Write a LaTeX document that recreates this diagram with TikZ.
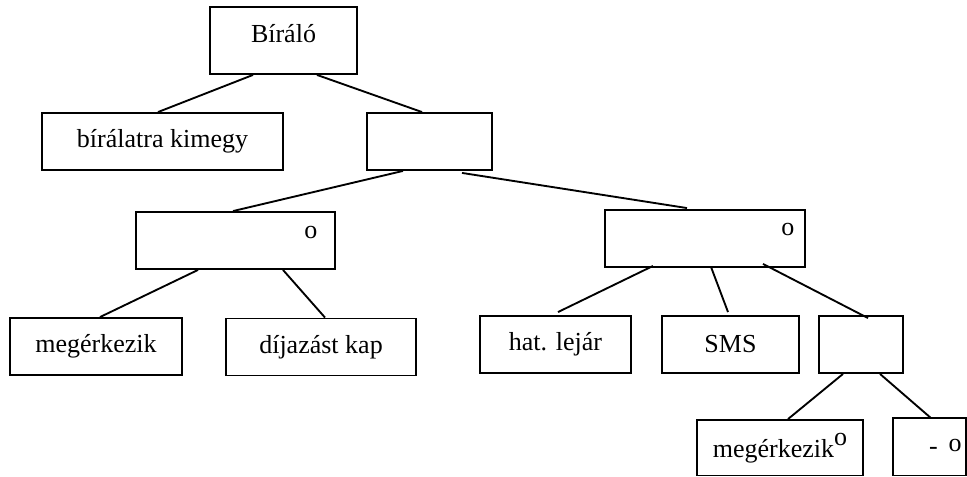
\documentclass[tikz,border=0pt]{standalone}
\usepackage{fontspec}
\setmainfont{Liberation Serif}
\usetikzlibrary{calc}

\begin{document}
\begin{tikzpicture}[x=0.75pt, y=-0.75pt, line width=1.4pt,
  doboz/.style={draw, inner sep=0pt, minimum height=42.75pt, font=\fontsize{19.5}{22}\selectfont},
  jel/.style={inner sep=0pt, font=\fontsize{19.5}{22}\selectfont}]
  \useasboundingbox (0,0) rectangle (967,477);
  % boxes
  \node[doboz, minimum width=110.25pt, minimum height=50.25pt, text depth=10pt] (biralo) at (283.5,40.5) {Bíráló};
  \node[doboz, minimum width=180.75pt] (kimegy) at (162.5,141.5) {bírálatra kimegy};
  \node[doboz, minimum width=93.75pt] (ures1) at (429.5,141.5) {};
  \node[doboz, minimum width=149.25pt] (bal) at (235.5,240.5) {};
  \node[doboz, minimum width=150pt] (jobb) at (705,238.5) {};
  \node[doboz, minimum width=129pt] (megerk1) at (96,346.5) {megérkezik};
  \node[doboz, minimum width=142.5pt] (dijazas) at (321,347) {díjazást kap};
  \node[doboz, minimum width=113.25pt] (hatlejar) at (555.5,344.5) {hat. lejár};
  \node[doboz, minimum width=102.75pt] (sms) at (730.5,344.5) {SMS};
  \node[doboz, minimum width=63pt] (ures2) at (861,344.5) {};
  \node[doboz, minimum width=124.5pt, minimum height=41.6pt] (megerk2) at (780,447.75) {megérkezik\raisebox{9pt}{o}};
  \node[doboz, minimum width=54.75pt, minimum height=43.1pt, text width=48pt, align=right] (kotojel) at (929.5,446.75) {-\hspace{8pt}\raisebox{2pt}{o}};
  % o marks
  \node[jel] (balo) at ($(bal.north east)+(-25,21)$) {o};
  \node[jel] (jobbo) at ($(jobb.north east)+(-18,20)$) {o};
  % edges
  \draw ($(biralo.south)+(-30.5,0)$) -- ($(kimegy.north)+(-4.5,0)$);
  \draw ($(biralo.south)+(33.5,0)$) -- ($(ures1.north)+(-7.5,0)$);
  \draw ($(ures1.south)+(-26.5,0)$) -- ($(bal.north)+(-2.5,0)$);
  \draw ($(ures1.south)+(32.5,2)$) -- ($(jobb.north)+(-18,-1)$);
  \draw ($(bal.south)+(-37.5,0)$) -- ($(megerk1.north)+(4,0)$);
  \draw ($(bal.south)+(47.5,0)$) -- ($(dijazas.north)+(4,0)$);
  \draw ($(jobb.south)+(-52,-2)$) -- ($(hatlejar.north)+(2.5,-3)$);
  \draw ($(jobb.south)+(6,-1)$) -- ($(sms.north)+(-2.5,-3)$);
  \draw ($(jobb.south)+(58,-4)$) -- ($(ures2.north)+(7,3)$);
  \draw ($(ures2.south)+(-18,0)$) -- ($(megerk2.north)+(8,0)$);
  \draw ($(ures2.south)+(19,0)$) -- ($(kotojel.north)+(1.5,1)$);
\end{tikzpicture}
\end{document}
